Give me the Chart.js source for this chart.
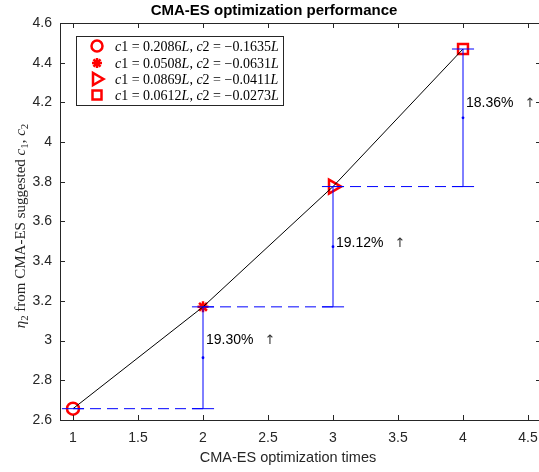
<!DOCTYPE html>
<html>
<head>
<meta charset="utf-8">
<script src="https://cdn.jsdelivr.net/npm/chart.js@4.4.0/dist/chart.umd.min.js"></script>
<style>
  html, body { margin: 0; padding: 0; background: #fff; overflow: hidden; }
  #chart { display: block; width: 545px; height: 472px; }
</style>
</head>
<body>
<canvas id="chart" width="545" height="472"></canvas>
<script>
// --- dados ---
const runs = [1, 2, 3, 4];
const eta2 = [2.657, 3.170, 3.776, 4.469];
const gainLabels = ['19.30%', '19.12%', '18.36%'];
const gainLabelY = [3.0, 3.49, 4.195];
const legendC1 = ['0.2086', '0.0508', '0.0869', '0.0612'];
const legendC2 = ['0.1635', '0.0631', '0.0411', '0.0273'];
const markerStyles = ['circle', 'star', 'triangle', 'rect'];
const xTicks = [1, 1.5, 2, 2.5, 3, 3.5, 4, 4.5];
const yTicks = [2.6, 2.8, 3, 3.2, 3.4, 3.6, 3.8, 4, 4.2, 4.4, 4.6];

const BLUE = '#0000ff';
const RED = '#ff0000';
const AXIS = '#262626';
const capHalf = 0.085;

function seg(x1, y1, x2, y2, dash) {
  return {
    data: [{ x: x1, y: y1 }, { x: x2, y: y2 }],
    showLine: true,
    borderColor: BLUE,
    borderWidth: 1,
    borderDash: dash || [],
    pointRadius: 0,
    order: 1
  };
}

const datasets = [];

// linhas tracejadas + barras verticais + caps
for (let i = 0; i < runs.length - 1; i++) {
  datasets.push(seg(runs[i], eta2[i], runs[i + 1], eta2[i], [11, 6]));
  datasets.push(seg(runs[i + 1], eta2[i], runs[i + 1], eta2[i + 1]));
  datasets.push(seg(runs[i + 1] - capHalf, eta2[i], runs[i + 1] + capHalf, eta2[i]));
  datasets.push(seg(runs[i + 1] - capHalf, eta2[i + 1], runs[i + 1] + capHalf, eta2[i + 1]));
}
datasets.push(seg(runs[0] - capHalf, eta2[0], runs[0] + capHalf, eta2[0]));

// pontos do meio das barras
datasets.push({
  data: runs.slice(1).map((x, i) => ({ x: x, y: (eta2[i] + eta2[i + 1]) / 2 })),
  pointRadius: 1.4,
  pointBackgroundColor: BLUE,
  pointBorderWidth: 0,
  order: 1
});

// linha preta
datasets.push({
  data: runs.map((x, i) => ({ x: x, y: eta2[i] })),
  showLine: true,
  borderColor: '#000',
  borderWidth: 1,
  pointRadius: 0,
  order: 2
});

// marcadores vermelhos
const markerCfg = {
  circle: { r: 6, rot: 0 },
  star: { r: 5.5, rot: 0 },
  triangle: { r: 8, rot: 90 },
  rect: { r: 7, rot: 0 }
};
runs.forEach((x, i) => {
  const st = markerStyles[i];
  datasets.push({
    data: [{ x: x, y: eta2[i] }],
    pointStyle: st,
    pointRadius: markerCfg[st].r,
    pointRotation: markerCfg[st].rot,
    pointBorderColor: RED,
    pointBackgroundColor: 'rgba(0,0,0,0)',
    pointBorderWidth: 2.5,
    order: 3
  });
});

function drawRich(ctx, parts, x, y, size, measureOnly) {
  let cx = x;
  parts.forEach(([t, s]) => {
    const sub = s === 'sub';
    const fs = sub ? size * 0.72 : size;
    ctx.font = (s === 'i' ? 'italic ' : '') + fs + 'px "Liberation Serif", serif';
    if (!measureOnly) ctx.fillText(t, cx, sub ? y + size * 0.22 : y);
    cx += ctx.measureText(t).width;
  });
  return cx - x;
}

const decorPlugin = {
  id: 'decor',
  afterDraw(chart) {
    const ctx = chart.ctx;
    const a = chart.chartArea;
    const xs = chart.scales.x, ys = chart.scales.y;
    ctx.save();

    // caixa dos eixos + ticks para dentro
    ctx.strokeStyle = AXIS;
    ctx.lineWidth = 1;
    ctx.strokeRect(Math.round(a.left) + 0.5, Math.round(a.top) + 0.5,
      Math.round(a.right - a.left), Math.round(a.bottom - a.top));
    ctx.beginPath();
    xTicks.forEach(v => {
      const px = Math.round(xs.getPixelForValue(v)) + 0.5;
      ctx.moveTo(px, a.bottom); ctx.lineTo(px, a.bottom - 5);
      ctx.moveTo(px, a.top); ctx.lineTo(px, a.top + 5);
    });
    yTicks.forEach(v => {
      const py = Math.round(ys.getPixelForValue(v)) + 0.5;
      ctx.moveTo(a.left, py); ctx.lineTo(a.left + 5, py);
      ctx.moveTo(a.right, py); ctx.lineTo(a.right - 5, py);
    });
    ctx.stroke();

    // textos de ganho
    gainLabels.forEach((t, i) => {
      const px = xs.getPixelForValue(runs[i + 1]) + 3;
      const py = ys.getPixelForValue(gainLabelY[i]);
      ctx.fillStyle = '#000';
      ctx.textBaseline = 'middle';
      ctx.textAlign = 'left';
      ctx.font = '14px "Liberation Sans", Arial, sans-serif';
      ctx.fillText(t, px, py);
      const w = ctx.measureText(t).width;
      ctx.fillStyle = '#333';
      ctx.font = '13px "DejaVu Sans", sans-serif';
      ctx.fillText('\u2191', px + w + 11, py);
    });

    // titulo
    ctx.fillStyle = '#000';
    ctx.textAlign = 'center';
    ctx.textBaseline = 'middle';
    ctx.font = 'bold 15px "Liberation Sans", Arial, sans-serif';
    ctx.fillText('CMA-ES optimization performance', 274, 11);

    // eixo x
    ctx.fillStyle = AXIS;
    ctx.font = '14.5px "Liberation Sans", Arial, sans-serif';
    ctx.fillText('CMA-ES optimization times', 288, 458);

    // eixo y (LaTeX-ish)
    const yParts = [['\u03b7', 'i'], ['2', 'sub'], [' from CMA-ES suggested ', 'r'],
      ['c', 'i'], ['1', 'sub'], [', ', 'r'], ['c', 'i'], ['2', 'sub']];
    ctx.save();
    ctx.translate(25, 226);
    ctx.rotate(-Math.PI / 2);
    ctx.textAlign = 'left';
    ctx.textBaseline = 'alphabetic';
    const yw = drawRich(ctx, yParts, 0, 0, 15, true);
    drawRich(ctx, yParts, -yw / 2, 0, 15);
    ctx.restore();

    // legenda
    const lx = 76, ly = 36, lw = 207, lh = 69;
    ctx.fillStyle = '#fff';
    ctx.fillRect(lx, ly, lw, lh);
    ctx.strokeStyle = AXIS;
    ctx.strokeRect(lx + 0.5, ly + 0.5, lw, lh);
    const rowsY = [46, 63, 79, 95];
    legendC1.forEach((c1, i) => {
      const my = rowsY[i], mx = 97;
      ctx.strokeStyle = RED;
      ctx.lineWidth = 2.5;
      ctx.beginPath();
      const st = markerStyles[i];
      if (st === 'circle') {
        ctx.arc(mx, my, 5.5, 0, Math.PI * 2);
      } else if (st === 'star') {
        const r = 5;
        for (let k = 0; k < 4; k++) {
          const ang = k * Math.PI / 4;
          ctx.moveTo(mx - r * Math.cos(ang), my - r * Math.sin(ang));
          ctx.lineTo(mx + r * Math.cos(ang), my + r * Math.sin(ang));
        }
      } else if (st === 'triangle') {
        ctx.moveTo(mx + 6.5, my);
        ctx.lineTo(mx - 4, my - 6);
        ctx.lineTo(mx - 4, my + 6);
        ctx.closePath();
      } else {
        ctx.rect(mx - 4.5, my - 4.5, 9, 9);
      }
      ctx.stroke();
      ctx.fillStyle = '#000';
      ctx.lineWidth = 1;
      ctx.textAlign = 'left';
      ctx.textBaseline = 'alphabetic';
      const parts = [['c', 'i'], ['1 = ' + c1, 'r'], ['L', 'i'], [', ', 'r'],
        ['c', 'i'], ['2 = \u2212' + legendC2[i], 'r'], ['L', 'i']];
      drawRich(ctx, parts, 115, my + 4.5, 14);
    });

    ctx.restore();
  }
};

new Chart(document.getElementById('chart'), {
  type: 'scatter',
  data: { datasets: datasets },
  options: {
    responsive: false,
    animation: false,
    events: [],
    layout: { autoPadding: false, padding: { top: 23, right: 4, left: 0, bottom: 0 } },
    plugins: { legend: { display: false }, tooltip: { enabled: false }, title: { display: false } },
    scales: {
      x: {
        type: 'linear', min: 0.9, max: 4.6,
        grid: { display: false, drawTicks: false },
        border: { display: false },
        afterBuildTicks: s => { s.ticks = xTicks.map(v => ({ value: v })); },
        afterFit: s => { s.height = 52; s.paddingLeft = 0; s.paddingRight = 0; },
        ticks: {
          padding: 10, color: AXIS, maxRotation: 0, autoSkip: false,
          font: { family: '"Liberation Sans", Arial, sans-serif', size: 14 },
          callback: v => String(v)
        }
      },
      y: {
        type: 'linear', min: 2.6, max: 4.6,
        grid: { display: false, drawTicks: false },
        border: { display: false },
        afterBuildTicks: s => { s.ticks = yTicks.map(v => ({ value: v })); },
        afterFit: s => { s.width = 60; s.paddingTop = 0; s.paddingBottom = 0; },
        ticks: {
          padding: 8, color: AXIS, autoSkip: false,
          font: { family: '"Liberation Sans", Arial, sans-serif', size: 14 },
          callback: v => String(v)
        }
      }
    }
  },
  plugins: [decorPlugin]
});
</script>
</body>
</html>
